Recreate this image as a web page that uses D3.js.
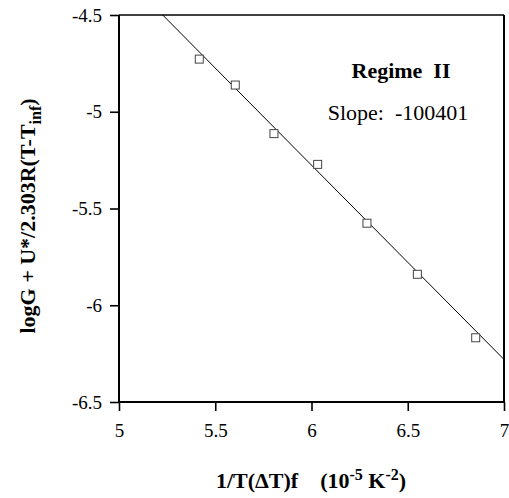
<!DOCTYPE html>
<html>
<head>
<meta charset="utf-8">
<script src="https://cdnjs.cloudflare.com/ajax/libs/d3/7.8.5/d3.min.js"></script>
<style>
  html, body { margin: 0; padding: 0; background: #fff; }
  svg { display: block; }
  text { font-family: "Liberation Serif", "Times New Roman", serif; fill: #000; }
</style>
</head>
<body>
<svg id="chart" width="509" height="498"></svg>
<script>
// ---- data ----
const xValues = [5.417, 5.604, 5.805, 6.032, 6.288, 6.550, 6.853];
const yValues = [-4.728, -4.862, -5.113, -5.272, -5.576, -5.840, -6.168];
const fitX = [5.227, 7];
const fitY = [-4.5, -6.28];
const xTicks = [5, 5.5, 6, 6.5, 7];
const xTickLabels = ["5", "5.5", "6", "6.5", "7"];
const yTicks = [-4.5, -5, -5.5, -6, -6.5];
const yTickLabels = ["-4.5", "-5", "-5.5", "-6", "-6.5"];
const titleText = "Regime\u00a0\u00a0II";
const slopeText = "Slope:\u00a0\u00a0-100401";

// ---- layout ----
const svg = d3.select("#chart");
const mLeft = 119, mRight = 504, mTop = 15, mBottom = 402;

const x = d3.scaleLinear().domain([5, 7]).range([mLeft, mRight]);
const y = d3.scaleLinear().domain([-6.5, -4.5]).range([mBottom, mTop]);

// frame (top and right)
svg.append("line").attr("x1", mLeft).attr("x2", mRight).attr("y1", mTop).attr("y2", mTop)
  .attr("stroke", "#000").attr("stroke-width", 1.6);
svg.append("line").attr("x1", mRight).attr("x2", mRight).attr("y1", mTop).attr("y2", mBottom)
  .attr("stroke", "#000").attr("stroke-width", 2);

// axes
const xAxis = d3.axisBottom(x).tickValues(xTicks)
  .tickFormat((d, i) => xTickLabels[i]).tickSize(9).tickSizeOuter(0).tickPadding(13);
const yAxis = d3.axisLeft(y).tickValues(yTicks)
  .tickFormat((d, i) => yTickLabels[i]).tickSize(9).tickSizeOuter(0).tickPadding(8);

const gx = svg.append("g").attr("transform", `translate(0,${mBottom})`).call(xAxis);
const gy = svg.append("g").attr("transform", `translate(${mLeft},0)`).call(yAxis);
[gx, gy].forEach(g => {
  g.select(".domain").attr("stroke", "#000").attr("stroke-width", 2);
  g.selectAll(".tick line").attr("stroke", "#000").attr("stroke-width", 1.6);
  g.selectAll(".tick text").attr("font-family", "Liberation Serif")
    .attr("font-size", 19).attr("fill", "#000");
});
gx.select(".domain").attr("d", `M${mLeft},0H${mRight}`);
gy.select(".domain").attr("d", `M0,${mTop}V${mBottom}`);

// fit line
svg.append("line")
  .attr("x1", x(fitX[0])).attr("y1", y(fitY[0]))
  .attr("x2", x(fitX[1])).attr("y2", y(fitY[1]))
  .attr("stroke", "#000").attr("stroke-width", 1);

// points
const pts = xValues.map((v, i) => ({ x: v, y: yValues[i] }));
const s = 8;
svg.append("g").selectAll("rect").data(pts).join("rect")
  .attr("x", d => x(d.x) - s / 2).attr("y", d => y(d.y) - s / 2)
  .attr("width", s).attr("height", s)
  .attr("fill", "#fff").attr("stroke", "#444").attr("stroke-width", 1);

// annotations
svg.append("text").attr("x", 401).attr("y", 78).attr("text-anchor", "middle")
  .attr("font-size", 22).attr("font-weight", "bold").text(titleText);
svg.append("text").attr("x", 398).attr("y", 120).attr("text-anchor", "middle")
  .attr("font-size", 22).text(slopeText);

// x label
const xl = svg.append("text").attr("x", 311).attr("y", 488).attr("text-anchor", "middle")
  .attr("font-size", 22).attr("font-weight", "bold");
xl.append("tspan").text("1/T(\u0394T)f\u00a0\u00a0\u00a0\u00a0(10");
xl.append("tspan").attr("dy", -8).attr("font-size", 16).text("-5");
xl.append("tspan").attr("dy", 8).text("\u00a0K");
xl.append("tspan").attr("dy", -8).attr("font-size", 16).text("-2");
xl.append("tspan").attr("dy", 8).text(")");

// y label
const yl = svg.append("text").attr("transform", "translate(35,216) rotate(-90)")
  .attr("text-anchor", "middle").attr("font-size", 22).attr("font-weight", "bold");
yl.append("tspan").text("logG + U*/2.303R(T-T");
yl.append("tspan").attr("dy", 6).attr("font-size", 16).text("inf");
yl.append("tspan").attr("dy", -6).text(")");
</script>
</body>
</html>
